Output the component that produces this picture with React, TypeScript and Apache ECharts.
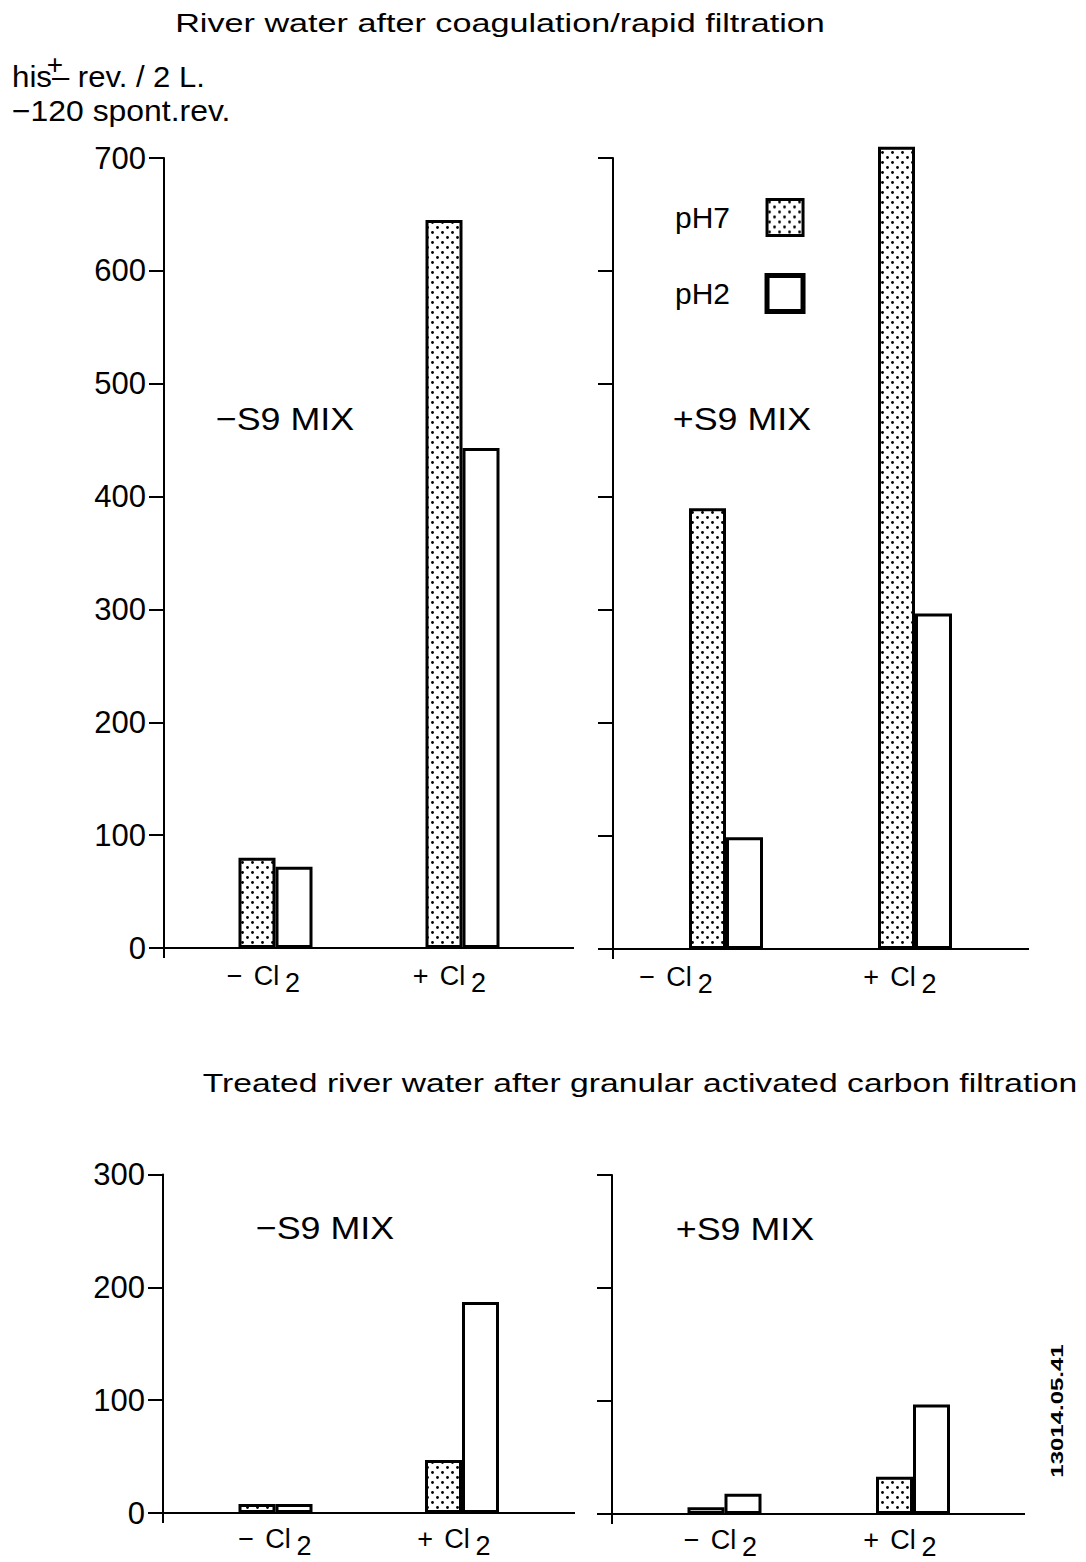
import React, { useEffect, useRef } from 'react';
import * as echarts from 'echarts';

// Categories and his+ revertant counts (per 2 L, minus 120 spontaneous revertants)
const categories = ['−Cl2', '+Cl2'];

// River water after coagulation / rapid filtration
const coagNoS9PH7 = [80, 645];
const coagNoS9PH2 = [72, 443];
const coagS9PH7 = [390, 710];
const coagS9PH2 = [99, 297];

// Treated river water after granular activated carbon filtration
const gacNoS9PH7 = [8, 47];
const gacNoS9PH2 = [8, 187];
const gacS9PH7 = [6, 33];
const gacS9PH2 = [18, 97];

const coagAxisMax = 700;
const gacAxisMax = 300;
const tickStep = 100;

const seriesNames = ['pH7', 'pH2'];
const titleTop = 'River water after coagulation/rapid filtration';
const titleBottom = 'Treated river water after granular activated carbon filtration';
const unitLine1Pre = 'his';
const unitLine1Sup = '+';
const unitLine1Post = '– rev. / 2 L.';
const unitLine2 = '−120 spont.rev.';
const s9Labels = ['−S9 MIX', '+S9 MIX', '−S9 MIX', '+S9 MIX'];
const figureCode = '13014.05.41';

const FONT = '"Liberation Sans", Arial, Helvetica, sans-serif';

type Panel = {
  left: number; top: number; width: number; height: number;
  axisX: number; lineEnd: number; max: number; showLabels: boolean;
  labelMargin: number;
  ph7: number[]; ph2: number[]; labelShift: number[];
  s9: { x: number; y: number };
};

const panels: Panel[] = [
  { left: 182, top: 158, width: 374, height: 790, axisX: 164, lineEnd: 574, max: coagAxisMax, showLabels: true,
    labelMargin: 14, ph7: coagNoS9PH7, ph2: coagNoS9PH2, labelShift: [-12, -13], s9: { x: 285, y: 419 } },
  { left: 631.5, top: 158, width: 378, height: 791, axisX: 613, lineEnd: 1029, max: coagAxisMax, showLabels: false,
    labelMargin: 14, ph7: coagS9PH7, ph2: coagS9PH2, labelShift: [-50, -15], s9: { x: 742, y: 419 } },
  { left: 182.25, top: 1174.5, width: 373, height: 338.5, axisX: 163, lineEnd: 575, max: gacAxisMax, showLabels: true,
    labelMargin: 12, ph7: gacNoS9PH7, ph2: gacNoS9PH2, labelShift: [0, -8], s9: { x: 325, y: 1228 } },
  { left: 630.25, top: 1175, width: 377, height: 339, axisX: 612, lineEnd: 1025, max: gacAxisMax, showLabels: false,
    labelMargin: 12, ph7: gacS9PH7, ph2: gacS9PH2, labelShift: [-4, -13], s9: { x: 745, y: 1229 } },
];

function makeDotPattern() {
  const size = 10;
  const c = document.createElement('canvas');
  c.width = size;
  c.height = size;
  const ctx = c.getContext('2d')!;
  ctx.fillStyle = '#fff';
  ctx.fillRect(0, 0, size, size);
  ctx.fillStyle = '#000';
  const dots = [[2.5, 2.5], [7.5, 7.5]];
  for (const [x, y] of dots) {
    ctx.beginPath();
    ctx.arc(x, y, 1.4, 0, Math.PI * 2);
    ctx.fill();
  }
  return { image: c, repeat: 'repeat', imageWidth: size, imageHeight: size };
}

function buildOption() {
  const dots = makeDotPattern();
  const grid: any[] = [];
  const xAxis: any[] = [];
  const yAxis: any[] = [];
  const series: any[] = [];
  const graphic: any[] = [];

  panels.forEach((p, i) => {
    const zeroY = p.top + p.height;
    grid.push({ left: p.left, top: p.top, width: p.width, height: p.height });

    const rich: any = {
      sign: { fontSize: 27, fontFamily: FONT, color: '#000', verticalAlign: 'top', padding: [0, 11, 0, 0] },
      el: { fontSize: 27, fontFamily: FONT, color: '#000', verticalAlign: 'top' },
      sub: { fontSize: 27, fontFamily: FONT, color: '#000', verticalAlign: 'top', padding: [7, 0, 0, 6] },
    };
    p.labelShift.forEach((s, k) => {
      rich['g' + k] = { fontSize: 27, fontFamily: FONT, width: Math.max(1, Math.abs(s) * 2) };
    });

    xAxis.push({
      type: 'category',
      gridIndex: i,
      data: categories,
      axisLine: { show: false },
      axisTick: { show: false },
      splitLine: { show: false },
      axisLabel: {
        interval: 0,
        margin: p.labelMargin,
        formatter: (v: string, k: number) =>
          `{sign|${v.charAt(0)}}{el|${v.slice(1, -1)}}{sub|${v.slice(-1)}}{g${k}| }`,
        rich,
      },
    });

    yAxis.push({
      type: 'value',
      gridIndex: i,
      min: 0,
      max: p.max,
      interval: tickStep,
      offset: p.left - p.axisX,
      axisLine: { show: true, lineStyle: { color: '#000', width: 2 } },
      axisTick: { show: true, length: 15, lineStyle: { color: '#000', width: 2 } },
      splitLine: { show: false },
      axisLabel: {
        show: p.showLabels,
        margin: 18,
        fontSize: 31,
        fontFamily: FONT,
        color: '#000',
      },
    });

    series.push({
      type: 'bar',
      name: seriesNames[0],
      xAxisIndex: i,
      yAxisIndex: i,
      data: p.ph7,
      barWidth: 37,
      barGap: '0%',
      clip: false,
      silent: true,
      itemStyle: { color: dots, borderColor: '#000', borderWidth: 3 },
    });
    series.push({
      type: 'bar',
      name: seriesNames[1],
      xAxisIndex: i,
      yAxisIndex: i,
      data: p.ph2,
      barWidth: 37,
      barGap: '0%',
      clip: false,
      silent: true,
      itemStyle: { color: '#fff', borderColor: '#000', borderWidth: 3 },
    });

    // baseline across the panel and the short stub of the y axis below zero
    graphic.push({
      type: 'line', silent: true,
      shape: { x1: p.axisX, y1: zeroY, x2: p.lineEnd, y2: zeroY },
      style: { stroke: '#000', lineWidth: 2 },
    });
    graphic.push({
      type: 'line', silent: true,
      shape: { x1: p.axisX, y1: zeroY, x2: p.axisX, y2: zeroY + 10 },
      style: { stroke: '#000', lineWidth: 2 },
    });

    graphic.push({
      type: 'text', silent: true, x: p.s9.x, y: p.s9.y, scaleX: 1.12,
      style: { text: s9Labels[i], font: `32px ${FONT}`, fill: '#000', align: 'center', verticalAlign: 'middle' },
    });
  });

  graphic.push(
    {
      type: 'text', silent: true, x: 500, y: 23, scaleX: 1.315,
      style: { text: titleTop, font: `26px ${FONT}`, fill: '#000', align: 'center', verticalAlign: 'middle' },
    },
    {
      type: 'text', silent: true, x: 640, y: 1083, scaleX: 1.295,
      style: { text: titleBottom, font: `26px ${FONT}`, fill: '#000', align: 'center', verticalAlign: 'middle' },
    },
    {
      type: 'text', silent: true, x: 12, y: 77, scaleX: 1.08,
      style: { text: unitLine1Pre, font: `29px ${FONT}`, fill: '#000', align: 'left', verticalAlign: 'middle' },
    },
    {
      type: 'text', silent: true, x: 55, y: 64,
      style: { text: unitLine1Sup, font: `28px ${FONT}`, fill: '#000', align: 'center', verticalAlign: 'middle' },
    },
    {
      type: 'text', silent: true, x: 52, y: 77, scaleX: 1.07,
      style: { text: unitLine1Post, font: `29px ${FONT}`, fill: '#000', align: 'left', verticalAlign: 'middle' },
    },
    {
      type: 'text', silent: true, x: 12, y: 111, scaleX: 1.1,
      style: { text: unitLine2, font: `29px ${FONT}`, fill: '#000', align: 'left', verticalAlign: 'middle' },
    },
    {
      type: 'text', silent: true, x: 1058, y: 1411, rotation: Math.PI / 2, scaleX: 1.5,
      style: { text: figureCode, font: `bold 16px ${FONT}`, fill: '#000', align: 'center', verticalAlign: 'middle' },
    }
  );

  return {
    animation: false,
    backgroundColor: '#fff',
    textStyle: { fontFamily: FONT, color: '#000' },
    legend: {
      data: [
        { name: seriesNames[0], itemStyle: { borderWidth: 3 } },
        { name: seriesNames[1], itemStyle: { borderWidth: 5 } },
      ],
      orient: 'vertical',
      left: 670,
      top: 193,
      align: 'right',
      icon: 'rect',
      itemWidth: 36,
      itemHeight: 36,
      itemGap: 36,
      selectedMode: false,
      textStyle: { fontSize: 30, fontFamily: FONT, color: '#000', padding: [0, 32, 0, 0] },
    },
    grid,
    xAxis,
    yAxis,
    series,
    graphic,
  };
}

export default function App() {
  const ref = useRef<HTMLDivElement>(null);

  useEffect(() => {
    document.body.style.margin = '0';
    if (!ref.current) return;
    const chart = echarts.init(ref.current, undefined, { renderer: 'svg' });
    chart.setOption(buildOption() as any);
    return () => chart.dispose();
  }, []);

  return <div ref={ref} style={{ width: 1086, height: 1562 }} />;
}
